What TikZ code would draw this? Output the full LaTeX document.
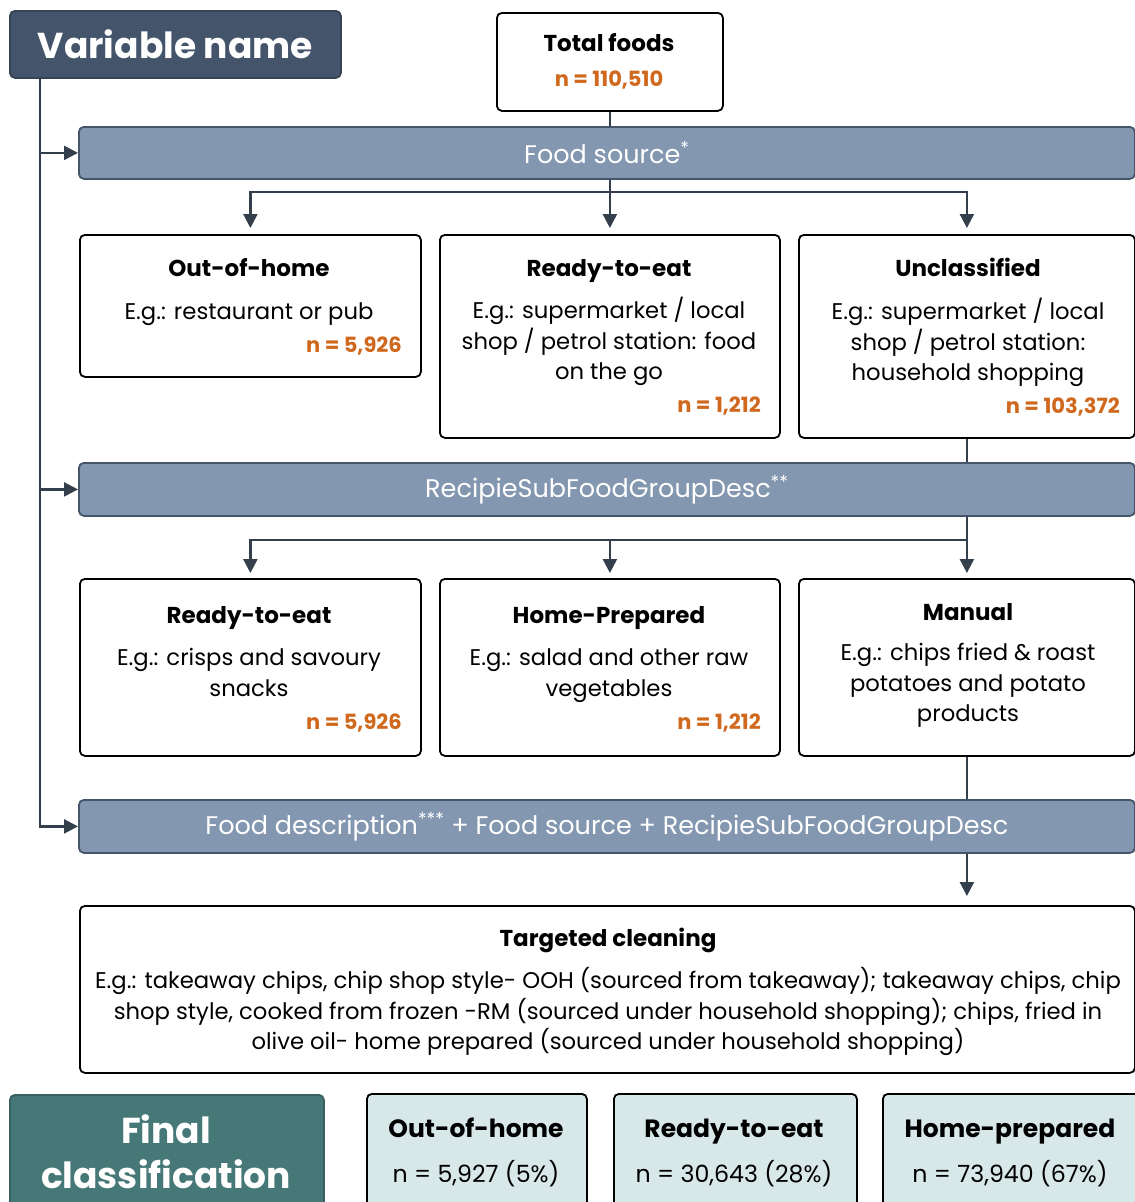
\documentclass[tikz,border=0pt]{standalone}
\usepackage{fontspec}
\setmainfont{Poppins}
\usetikzlibrary{arrows.meta,positioning,calc}
\definecolor{slateNavy}{HTML}{44546A}
\definecolor{bannerBlue}{HTML}{8497B0}
\definecolor{lineGrey}{HTML}{333F4B}
\definecolor{countOrange}{HTML}{D0691E}
\definecolor{deepTeal}{HTML}{477878}
\definecolor{paleTeal}{HTML}{D8E7E7}
\newcommand{\boxbody}{\fontsize{22.7pt}{30.5pt}\selectfont}
\newcommand{\boxhead}{\fontsize{23pt}{28pt}\selectfont\bfseries}
\newcommand{\countfont}{\fontsize{21pt}{26pt}\selectfont\bfseries}
\newcommand{\bigbold}{\fontsize{36pt}{45pt}\selectfont\bfseries}
\newcommand{\stripfont}{\fontsize{25.5pt}{30pt}\selectfont}

\tikzset{
  box/.style={draw=black, line width=1.8pt, rounded corners=5pt, fill=white,
    anchor=north west, inner sep=0pt},
  banner/.style={draw=slateNavy, line width=1.8pt, fill=bannerBlue, rounded corners=5pt,
    anchor=north west, minimum width=1056pt, text=white, font=\stripfont},
  strutted/.style={execute at begin node=\strut, execute at end node=\strut, inner sep=0pt, yshift=-3pt},
  title/.style={strutted, font=\boxhead, text=black},
  body/.style={strutted, font=\boxbody, align=center, text=black},
  count/.style={strutted, font=\countfont, text=countOrange, anchor=east},
  link/.style={draw=lineGrey, line width=2.4pt},
  arrow/.style={link, -{Triangle[length=14pt,width=14pt]}},
}

\begin{document}
\begin{tikzpicture}[x=1pt,y=-1pt]
\clip (0,0) rectangle (1135,1202);

% headings on the left
\node[box, draw=slateNavy!80!black, fill=slateNavy, minimum width=331pt, minimum height=67pt,
  text=white, font=\bigbold] (vn) at (9,10) {Variable name};
\node[box, draw=deepTeal!80!black, fill=deepTeal, minimum width=314pt, minimum height=130pt] (fc) at (9,1094) {};
\node[font=\bigbold, text=white, align=center] (fcText) at (166,1152) {Final\\classification};

% top
\node[box, minimum width=226pt, minimum height=98pt] (tot) at (496,12) {};
\node[title] (totTitle) at (609,43) {Total foods};
\node[count, anchor=center] (totCount) at (609,78) {n = 110,510};

% variable strips
\node[banner, minimum height=52pt] (fs) at (78,126) {Food source\textsuperscript{*}};
\node[banner, minimum height=53pt] (rs) at (78,462) {RecipieSubFoodGroupDesc\textsuperscript{**}};
\node[banner, minimum height=53pt] (fd) at (78,799)
  {Food description\textsuperscript{***} + Food source + RecipieSubFoodGroupDesc};

% food source boxes
\node[box, minimum width=341pt, minimum height=142pt] (ooh) at (79,234) {};
\node[box, minimum width=340pt, minimum height=203pt] (rteA) at (439,234) {};
\node[box, minimum width=336pt, minimum height=203pt] (unc) at (798,234) {};
\node[title] (oohTitle) at (249,268) {Out-of-home};
\node[body] (oohBody) at (249,310) {E.g.: restaurant or pub};
\node[count] (oohCount) at (402,344) {n = 5,926};
\node[title] (rteATitle) at (609,268) {Ready-to-eat};
\node[body] (rteABody) at (609,340) {E.g.: supermarket / local\\shop / petrol station: food\\on the go};
\node[count] (rteACount) at (761,404) {n = 1,212};
\node[title] (uncTitle) at (968,268) {Unclassified};
\node[body] (uncBody) at (968,341) {E.g.: supermarket / local\\shop / petrol station:\\household shopping};
\node[count] (uncCount) at (1120,405) {n = 103,372};

% recipe sub food group boxes
\node[box, minimum width=341pt, minimum height=177pt] (rteB) at (79,578) {};
\node[box, minimum width=340pt, minimum height=177pt] (hp) at (439,578) {};
\node[box, minimum width=336pt, minimum height=177pt] (man) at (798,578) {};
\node[title] (rteBTitle) at (249,615) {Ready-to-eat};
\node[body] (rteBBody) at (249,674) {E.g.: crisps and savoury\\snacks};
\node[count] (rteBCount) at (402,721) {n = 5,926};
\node[title] (hpTitle) at (609,615) {Home-Prepared};
\node[body] (hpBody) at (609,674) {E.g.: salad and other raw\\vegetables};
\node[count] (hpCount) at (761,721) {n = 1,212};
\node[title] (manTitle) at (968,612) {Manual};
\node[body] (manBody) at (968,684) {E.g.: chips fried \& roast\\potatoes and potato\\products};

% targeted cleaning
\node[box, minimum width=1055pt, minimum height=167pt] (tc) at (79,905) {};
\node[title] (tcTitle) at (608,938) {Targeted cleaning};
\node[body] (tcBody) at (608,1010) {E.g.: takeaway chips, chip shop style- OOH (sourced from takeaway); takeaway chips, chip\\
  shop style, cooked from frozen -RM (sourced under household shopping); chips, fried in\\
  olive oil- home prepared (sourced under household shopping)};

% final classes
\node[box, fill=paleTeal, minimum width=220pt, minimum height=140pt] (oohFinal) at (366,1093) {};
\node[box, fill=paleTeal, minimum width=243pt, minimum height=140pt] (rteFinal) at (613,1093) {};
\node[box, fill=paleTeal, minimum width=270pt, minimum height=140pt] (hpFinal) at (882,1093) {};
\node[title, font=\fontsize{25pt}{30pt}\selectfont\bfseries] (oohFinalTitle) at (476,1128) {Out-of-home};
\node[body, font=\fontsize{23.7pt}{30pt}\selectfont] (oohFinalN) at (476,1173) {n = 5,927 (5\%)};
\node[title, font=\fontsize{25pt}{30pt}\selectfont\bfseries] (rteFinalTitle) at (734,1128) {Ready-to-eat};
\node[body, font=\fontsize{23.7pt}{30pt}\selectfont] (rteFinalN) at (734,1173) {n = 30,643 (28\%)};
\node[title, font=\fontsize{25pt}{30pt}\selectfont\bfseries] (hpFinalTitle) at (1010,1128) {Home-prepared};
\node[body, font=\fontsize{23.7pt}{30pt}\selectfont] (hpFinalN) at (1010,1173) {n = 73,940 (67\%)};

% spine
\coordinate (spine) at ([xshift=31pt]vn.south west);
\draw[arrow] (spine) |- (fs.west);
\draw[arrow] (spine) |- (rs.west);
\draw[arrow] (spine) |- (fd.west);

% flow
\draw[link] (tot.south) -- (tot.south |- fs.north);
\coordinate (forkA) at ($(fs.south -| tot.south)+(0,12)$);
\draw[link] (fs.south -| tot.south) -- (forkA);
\draw[arrow, shorten >=6pt] (forkA) -- (rteA.north);
\draw[arrow, shorten >=6pt] (forkA) -| (ooh.north);
\draw[arrow, shorten >=6pt] (forkA) -| (unc.north);
\draw[link] (unc.south) -- (unc.south |- rs.north);
\coordinate (forkB) at ($(rs.south -| man.north)+(0,23)$);
\draw[arrow, shorten >=5pt] (rs.south -| man.north) -- (man.north);
\draw[arrow, shorten >=5pt] (forkB) -| (rteB.north);
\draw[arrow, shorten >=5pt] (forkB) -| (hp.north);
\draw[link] (man.south) -- (man.south |- fd.north);
\draw[arrow, shorten >=9pt] (fd.south -| man.south) -- (tc.north -| man.south);
\end{tikzpicture}
\end{document}
